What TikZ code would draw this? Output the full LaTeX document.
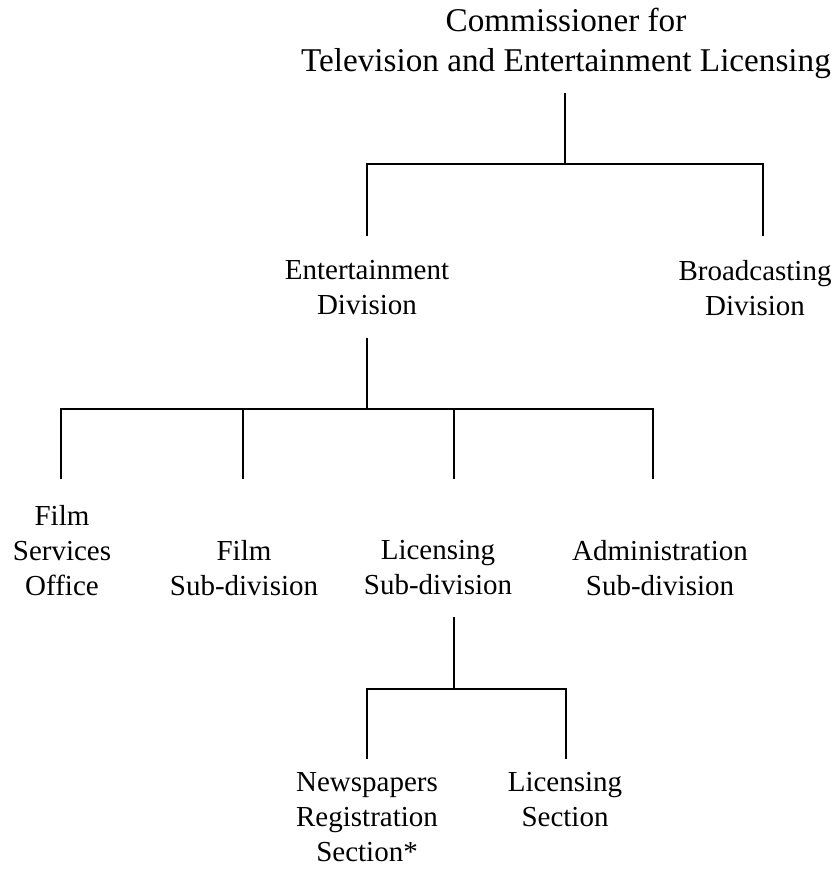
\documentclass[tikz,border=0pt]{standalone}
\usepackage{fontspec}
\setmainfont{Liberation Serif}
\begin{document}
\begin{tikzpicture}[x=1pt,y=-1pt,
  lbl/.style={anchor=north,inner sep=0pt,align=center,font=\fontsize{29}{35}\selectfont},
  toplbl/.style={lbl,font=\fontsize{33.2}{40}\selectfont},
  conn/.style={line width=1.6pt,line join=miter}]
\useasboundingbox (0,0) rectangle (836,877);
% text blocks
\node[toplbl] (title) at (566,8) {Commissioner for\\Television and Entertainment Licensing};
\node[lbl] (ent) at (367,260) {Entertainment\\Division};
\node[lbl] (brd) at (755,260) {Broadcasting\\Division};
\node[lbl] (fso) at (62,505) {Film\\Services\\Office};
\node[lbl] (fsd) at (244,540) {Film\\Sub-division};
\node[lbl] (lsd) at (438,540) {Licensing\\Sub-division};
\node[lbl] (asd) at (660,540) {Administration\\Sub-division};
\node[lbl] (nrs) at (367,772) {Newspapers\\Registration\\Section*};
\node[lbl] (lsec) at (565,772) {Licensing\\Section};
% connector points
\coordinate (t0) at (565,93);   \coordinate (t1) at (565,164);
\coordinate (e0) at (367,164);  \coordinate (e1) at (367,236);
\coordinate (b0) at (763,164);  \coordinate (b1) at (763,236);
\coordinate (d0) at (367,338);  \coordinate (d1) at (367,409);
\coordinate (f0) at (61,409);   \coordinate (f1) at (61,479);
\coordinate (g0) at (243,409);  \coordinate (g1) at (243,479);
\coordinate (h0) at (454,409);  \coordinate (h1) at (454,479);
\coordinate (a0) at (653,409);  \coordinate (a1) at (653,479);
\coordinate (s0) at (454,617);  \coordinate (s1) at (454,689);
\coordinate (n0) at (367,689);  \coordinate (n1) at (367,759);
\coordinate (l0) at (566,689);  \coordinate (l1) at (566,759);
% connectors
\draw[conn] (t0) -- (t1);
\draw[conn] (e1) -- (e0) -- (b0) -- (b1);
\draw[conn] (d0) -- (d1);
\draw[conn] (f1) -- (f0) -- (a0) -- (a1);
\draw[conn] (g0) -- (g1);
\draw[conn] (h0) -- (h1);
\draw[conn] (s0) -- (s1);
\draw[conn] (n1) -- (n0) -- (l0) -- (l1);
\end{tikzpicture}
\end{document}
